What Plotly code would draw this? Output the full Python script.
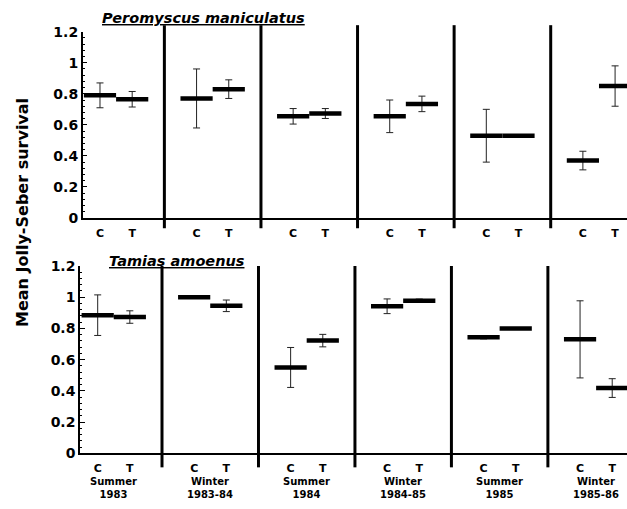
import plotly.graph_objects as go

# ---- data ----
seasons = ["Summer", "Winter", "Summer", "Winter", "Summer", "Winter"]
years = ["1983", "1983-84", "1984", "1984-85", "1985", "1985-86"]
treatments = ["C", "T"]

pm_C_mean = [0.79, 0.77, 0.655, 0.655, 0.53, 0.37]
pm_C_err = [0.08, 0.19, 0.05, 0.105, 0.17, 0.06]
pm_T_mean = [0.765, 0.83, 0.673, 0.735, 0.53, 0.85]
pm_T_err = [0.05, 0.06, 0.032, 0.05, 0.0, 0.13]

ta_C_mean = [0.885, 1.0, 0.55, 0.942, 0.743, 0.73]
ta_C_err = [0.13, 0.0, 0.128, 0.047, 0.01, 0.247]
ta_T_mean = [0.873, 0.945, 0.722, 0.978, 0.80, 0.418]
ta_T_err = [0.04, 0.037, 0.04, 0.01, 0.0, 0.06]

yticks = [0, 0.2, 0.4, 0.6, 0.8, 1, 1.2]
ytick_text = ["0", "0.2", "0.4", "0.6", "0.8", "1", "1.2"]

FONT = "DejaVu Sans"
n = len(seasons)
xC = [3 * i for i in range(n)]
xT = [3 * i + 1 for i in range(n)]
seps = [3 * i + 2 for i in range(n - 1)]

fig = go.Figure()


def add_series(x, y, e, xa, ya):
    fig.add_trace(go.Scatter(
        x=x, y=y, mode="markers", xaxis=xa, yaxis=ya, showlegend=False,
        marker=dict(symbol="line-ew", size=23, color="black",
                    line=dict(color="black", width=4.5)),
        error_y=dict(type="data", array=e, visible=True, color="#222",
                     thickness=1, width=3.5),
    ))


add_series(xC, pm_C_mean, pm_C_err, "x", "y")
add_series(xT, pm_T_mean, pm_T_err, "x", "y")
add_series(xC, ta_C_mean, ta_C_err, "x2", "y2")
add_series(xT, ta_T_mean, ta_T_err, "x2", "y2")

W, H = 627, 509
tickvals = []
ticktext = []
for i in range(n):
    tickvals += [xC[i], xT[i]]
    ticktext += treatments

xcommon = dict(showline=True, linecolor="black", linewidth=1.5, ticks="",
               showgrid=False, zeroline=False, tickmode="array",
               tickvals=tickvals, ticktext=ticktext, automargin=False,
               ticklabelstandoff=4,
               tickfont=dict(family=FONT, size=11, color="black", weight="bold"))
ycommon = dict(showline=True, linecolor="black", linewidth=1.5,
               ticks="inside", ticklen=5, tickwidth=1, tickcolor="black",
               showgrid=False, zeroline=False, range=[0, 1.2], automargin=False,
               tickmode="array", tickvals=yticks, ticktext=ytick_text,
               tickfont=dict(family=FONT, size=14, color="black", weight="bold"),
               minor=dict(ticks="inside", ticklen=2.5, dtick=0.04,
                          tickcolor="black", tickwidth=1))

fig.update_layout(
    width=W, height=H, margin=dict(l=0, r=0, t=0, b=0, autoexpand=False),
    paper_bgcolor="white", plot_bgcolor="white",
    xaxis=dict(domain=[82.7 / W, 1], range=[-0.537, 16.37], anchor="y", **xcommon),
    yaxis=dict(domain=[1 - 218 / H, 1 - 31.7 / H], anchor="x", **ycommon),
    xaxis2=dict(domain=[80 / W, 1], range=[-0.55, 16.46], anchor="y2", **xcommon),
    yaxis2=dict(domain=[1 - 453.3 / H, 1 - 266 / H], anchor="x2", **ycommon),
)

shapes = []
for s in seps:
    shapes.append(dict(type="line", xref="x", yref="y domain", x0=s, x1=s,
                       y0=-0.055, y1=1.035, line=dict(color="black", width=3)))
    shapes.append(dict(type="line", xref="x2", yref="y2 domain", x0=s, x1=s,
                       y0=-0.075, y1=1.0, line=dict(color="black", width=3)))
fig.update_layout(shapes=shapes)

ann = []
for i in range(n):
    ann.append(dict(x=(xC[i] + xT[i]) / 2, y=-0.11, xref="x2", yref="y2 domain",
                    text="<b>" + seasons[i] + "<br>" + years[i] + "</b>",
                    showarrow=False, yanchor="top", xanchor="center",
                    font=dict(family=FONT, size=10, color="black")))
ann.append(dict(x=203 / W, y=1 - 18 / H, xref="paper", yref="paper",
                xanchor="center", yanchor="middle",
                text="<b><i><u>Peromyscus maniculatus</u></i></b>", showarrow=False,
                font=dict(family=FONT, size=14.5, color="black")))
ann.append(dict(x=177 / W, y=1 - 261 / H, xref="paper", yref="paper",
                xanchor="center", yanchor="middle",
                text="<b><i><u>Tamias amoenus</u></i></b>", showarrow=False,
                font=dict(family=FONT, size=14.5, color="black")))
ann.append(dict(x=22 / W, y=1 - 213 / H, xref="paper", yref="paper",
                xanchor="center", yanchor="middle",
                text="<b>Mean Jolly-Seber survival</b>", showarrow=False,
                textangle=-90,
                font=dict(family=FONT, size=16, color="black")))
fig.update_layout(annotations=ann)

fig.write_html("out.html", config={"displayModeBar": False},
               post_script="document.body.style.margin='0px';"
                           "document.body.style.overflow='hidden';")
